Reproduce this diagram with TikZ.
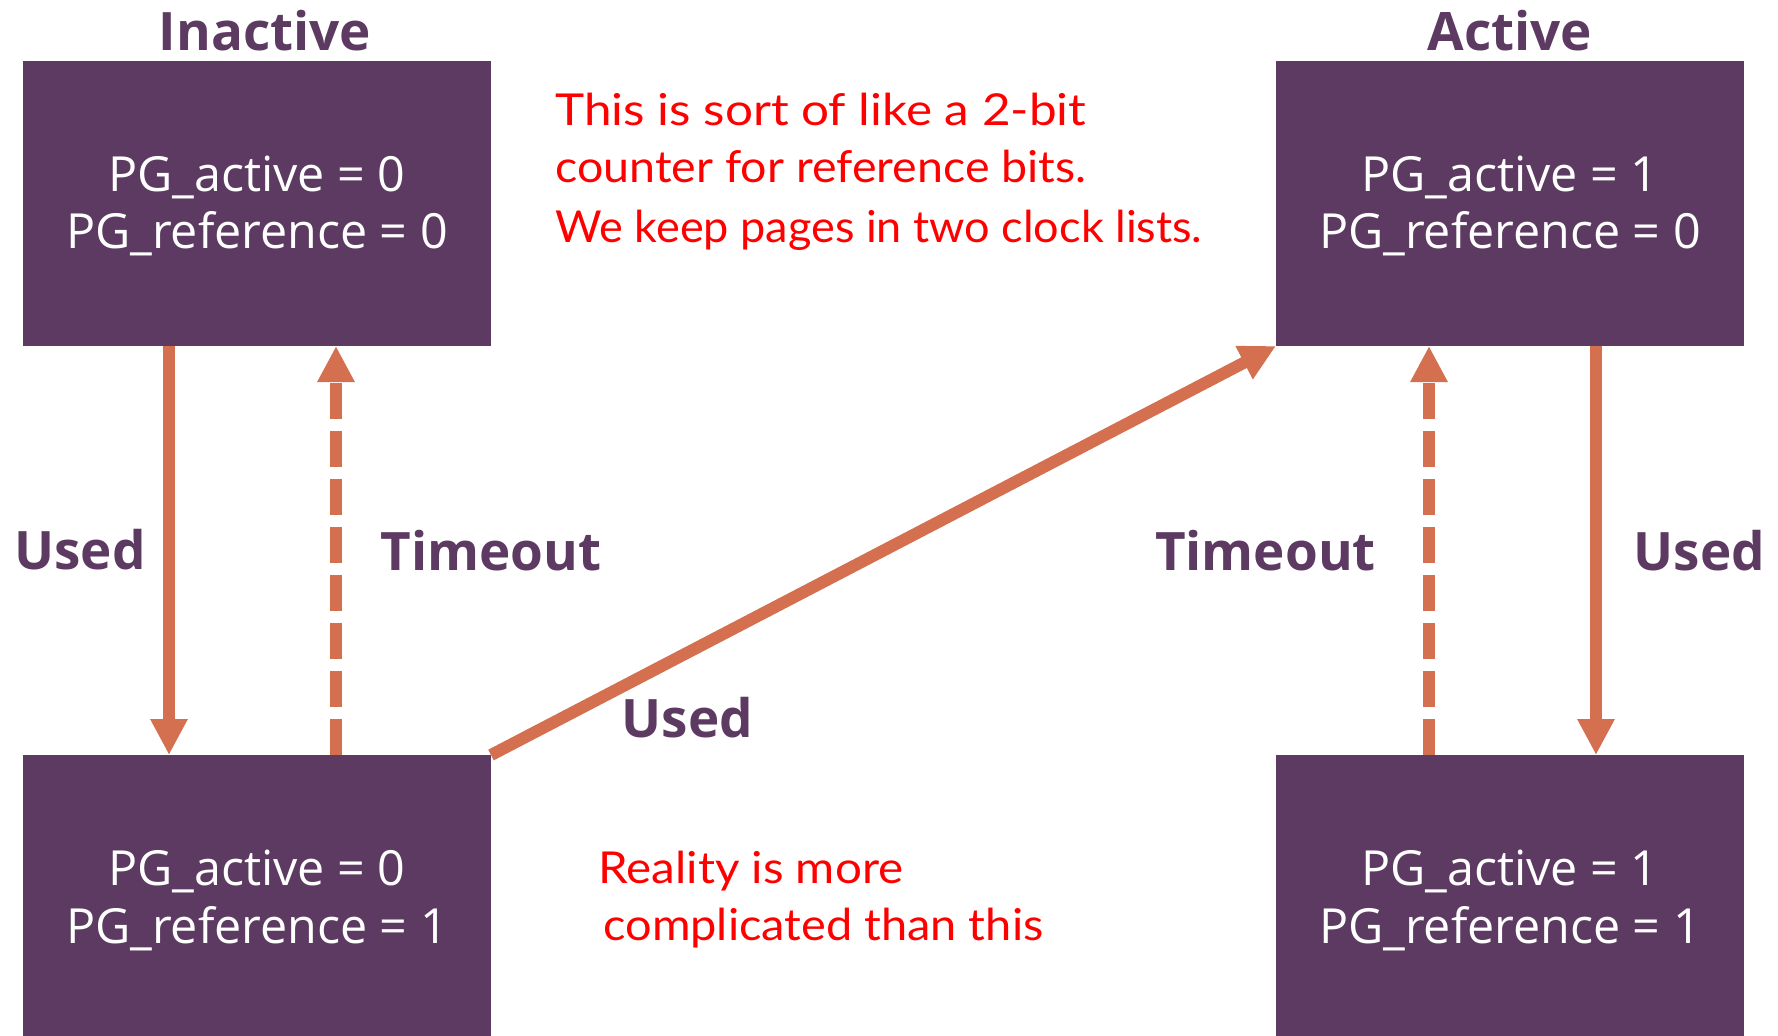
\documentclass[tikz,border=0pt]{standalone}
\usepackage{graphicx}
\usepackage{fontspec}
\setmainfont{Open Sans}
\newfontfamily\handfont{Lato}
\usetikzlibrary{arrows.meta}
\definecolor{boxpurple}{RGB}{93,58,97}
\definecolor{arroworange}{RGB}{212,112,80}
\definecolor{notered}{RGB}{255,0,0}
\begin{document}
\begin{tikzpicture}[x=0.5pt,y=-0.5pt,
  statebox/.style={draw=none, fill=boxpurple, minimum width=234pt, minimum height=142.5pt, inner sep=0pt, outer sep=0pt},
  boxtxt/.style={text=white, font=\fontsize{24.2}{29}\selectfont, anchor=base, inner sep=0pt},
  title/.style={text=boxpurple, font=\fontsize{26.5}{32}\selectfont\bfseries, anchor=base, inner sep=0pt},
  note/.style={text=notered, font=\handfont\fontsize{22}{26}\selectfont, anchor=base west, inner sep=0pt},
  usedarrow/.style={draw=arroworange, line width=6pt, -{Triangle[length=18pt,width=17.5pt]}},
  timeoutarrow/.style={usedarrow, dash pattern=on 18pt off 6pt},
]
\useasboundingbox (0,0) rectangle (1778,1035);
\clip (0,0) rectangle (1778,1035);

% state boxes
\node[statebox] (tl) at (257,203.5) {};
\node[statebox] (tr) at (1510,203.5) {};
\node[statebox] (bl) at (257,897.5) {};
\node[statebox] (br) at (1510,897.5) {};

% box texts
\node[boxtxt] (tla) at (257,191) {PG\_active = 0};
\node[boxtxt] (tlb) at (257,248) {PG\_reference = 0};
\node[boxtxt] (tra) at (1510,191) {PG\_active = 1};
\node[boxtxt] (trb) at (1510,248) {PG\_reference = 0};
\node[boxtxt] (bla) at (257,885) {PG\_active = 0};
\node[boxtxt] (blb) at (257,943) {PG\_reference = 1};
\node[boxtxt] (bra) at (1510,885) {PG\_active = 1};
\node[boxtxt] (brb) at (1510,943) {PG\_reference = 1};

% titles
\node[title] (tinact) at (265,50) {Inactive};
\node[title] (tact) at (1510,50) {Active};

% arrow x positions
\coordinate (xa) at (169,0);
\coordinate (xb) at (336,0);
\coordinate (xc) at (1429,0);
\coordinate (xd) at (1596,0);

% connectors
\draw[usedarrow] (tl.south -| xa) -- (bl.north -| xa);
\draw[timeoutarrow] (bl.north -| xb) -- (tl.south -| xb);
\draw[timeoutarrow] (br.north -| xc) -- (tr.south -| xc);
\draw[usedarrow] (tr.south -| xd) -- (br.north -| xd);
\draw[usedarrow] (bl.north east) -- (tr.south west);

% connector labels
\node[title] (lused1) at (80,569) {Used};
\node[title] (ltime1) at (491,570) {Timeout};
\node[title] (ltime2) at (1265.5,570) {Timeout};
\node[title] (lused2) at (1699.5,570) {Used};
\node[title] (lused3) at (687.5,737) {Used};

% notes
\node[note] (n1) at (555,125) {\resizebox{265.5pt}{\height}{This is sort of like a 2-bit}};
\node[note] (n2) at (555,182) {\resizebox{265.5pt}{\height}{counter for reference bits.}};
\node[note] (n3) at (555,242) {\resizebox{323.5pt}{\height}{We keep pages in two clock lists.}};
\node[note] (n4) at (598,883) {\resizebox{152.5pt}{\height}{Reality is more}};
\node[note] (n5) at (603,940) {\resizebox{220pt}{\height}{complicated than this}};
\end{tikzpicture}
\end{document}
